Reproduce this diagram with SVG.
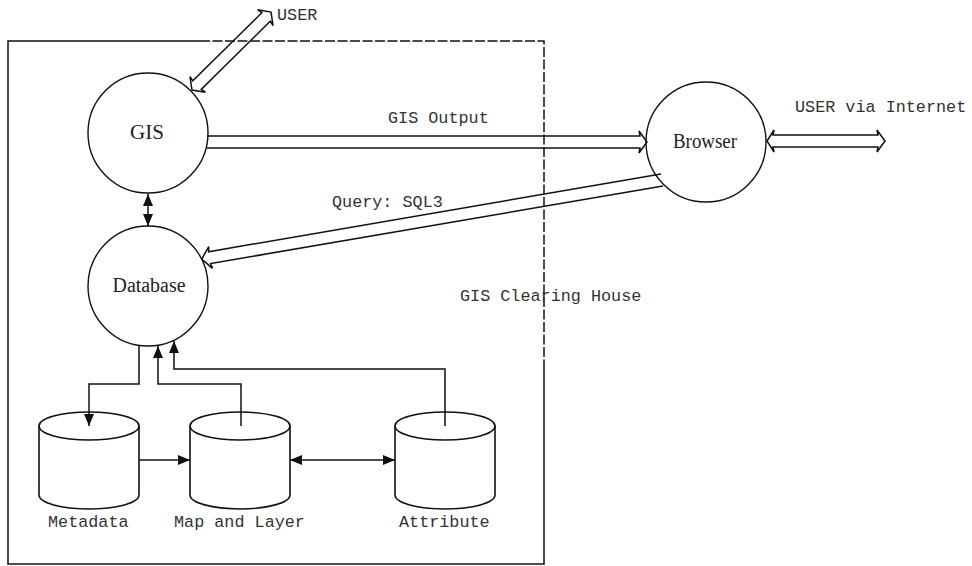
<svg xmlns="http://www.w3.org/2000/svg" width="972" height="566" viewBox="0 0 972 566">
  <style>
    .frame { fill: none; stroke: #111; stroke-width: 1.5; }
    .frame-dash { fill: none; stroke: #111; stroke-width: 1.5; stroke-dasharray: 10 2.5; }
    .bubble { fill: #fff; stroke: #111; stroke-width: 1.4; }
    .drum { fill: #fff; stroke: #111; stroke-width: 1.6; }
    .pipe { fill: none; stroke: #111; stroke-width: 1.5; stroke-linejoin: miter; }
    .link { fill: none; stroke: #111; stroke-width: 1.5; }
    .title { font-family: "Liberation Serif", "Times New Roman", serif; font-size: 20px; fill: #222; text-anchor: middle; }
    .mono { font-family: "Liberation Mono", "Courier New", monospace; font-size: 16.8px; fill: #333; }
  </style>
  <defs>
    <marker id="tip" viewBox="0 0 12 10" refX="12" refY="5" markerWidth="12" markerHeight="10" markerUnits="userSpaceOnUse" orient="auto-start-reverse">
      <path d="M0,0 L12,5 L0,10 Z" fill="#111"/>
    </marker>
  </defs>

  <!-- clearing-house boundary -->
  <g id="boundary">
    <path class="frame" d="M200,41 H8 V564 H544 V367"/>
    <path class="frame-dash" d="M200,41 H544 V367"/>
  </g>

  <!-- process bubbles -->
  <g id="gis">
    <circle class="bubble" cx="148" cy="133" r="60"/>
    <text class="title" x="147" y="139" textLength="34" lengthAdjust="spacingAndGlyphs">GIS</text>
  </g>
  <g id="database">
    <circle class="bubble" cx="148" cy="286" r="60"/>
    <text class="title" x="149" y="292" textLength="73" lengthAdjust="spacingAndGlyphs">Database</text>
  </g>
  <g id="browser">
    <circle class="bubble" cx="706" cy="142" r="60"/>
    <text class="title" x="705" y="148" font-size="21" textLength="64" lengthAdjust="spacingAndGlyphs">Browser</text>
  </g>

  <!-- data stores -->
  <g id="metadata">
    <path class="drum" d="M39,426 V495 A50,14 0 0 0 139,495 V426"/>
    <ellipse class="drum" cx="89" cy="426" rx="50" ry="14"/>
    <text class="mono" x="48" y="527">Metadata</text>
  </g>
  <g id="map-layer">
    <path class="drum" d="M190,426 V495 A50,14 0 0 0 290,495 V426"/>
    <ellipse class="drum" cx="240" cy="426" rx="50" ry="14"/>
    <text class="mono" x="174" y="527">Map and Layer</text>
  </g>
  <g id="attribute">
    <path class="drum" d="M395,426 V495 A50,14 0 0 0 495,495 V426"/>
    <ellipse class="drum" cx="445" cy="426" rx="50" ry="14"/>
    <text class="mono" x="399" y="527">Attribute</text>
  </g>

  <!-- connectors -->
  <g id="connectors">
    <!-- hollow flow arrows -->
    <path class="pipe" d="M207,136 H640 L639,131 L647,142 L639,153 L640,148 H207"/>
    <path class="pipe" transform="translate(662,180) rotate(170.26)" d="M0,-6 H459 L458,-11 L467,0 L458,11 L459,6 H0"/>
    <path class="pipe" transform="translate(192,90) rotate(-44.6)" d="M0,0 L8,-11 L7,-6 H104 L103,-11 L111,0 L103,11 L104,6 H7 L8,11 Z"/>
    <path class="pipe" d="M767,141 L774,130 L773,135 H878 L877,130 L885,141 L877,152 L878,147 H773 L774,152 Z"/>

    <!-- solid links -->
    <path class="link" d="M148,194 V226" marker-start="url(#tip)" marker-end="url(#tip)"/>
    <path class="link" d="M139,346 V384 H89 V426" marker-end="url(#tip)"/>
    <path class="link" d="M241,426 V384 H158 V346" marker-end="url(#tip)"/>
    <path class="link" d="M445,426 V369 H174 V341" marker-end="url(#tip)"/>
    <path class="link" d="M139,460 H190" marker-end="url(#tip)"/>
    <path class="link" d="M290,460 H395" marker-start="url(#tip)" marker-end="url(#tip)"/>
  </g>

  <!-- labels -->
  <g id="labels">
    <text class="mono" x="277" y="20" fill="#222">USER</text>
    <text class="mono" x="388" y="123">GIS Output</text>
    <text class="mono" x="332" y="207">Query: SQL3</text>
    <text class="mono" x="795" y="112">USER via Internet</text>
    <text class="mono" x="460" y="301">GIS Clearing House</text>
  </g>
</svg>
